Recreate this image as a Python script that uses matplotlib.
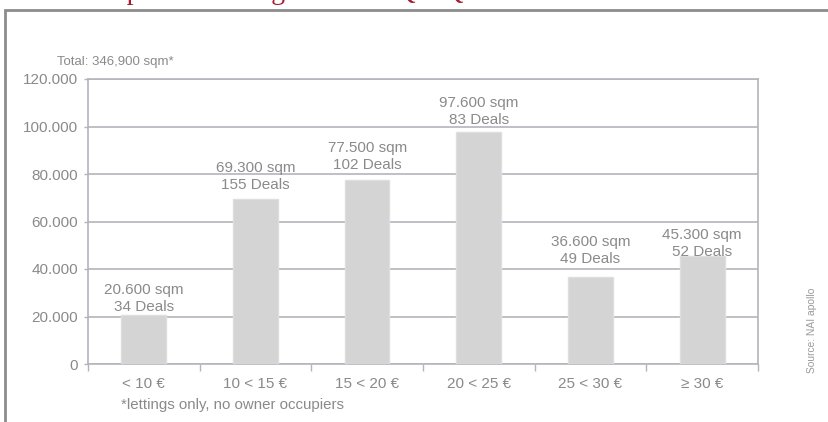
import matplotlib
matplotlib.use("Agg")
import matplotlib.pyplot as plt
from matplotlib.patches import Rectangle
from matplotlib.ticker import FuncFormatter, FixedLocator

categories = ["< 10 €", "10 < 15 €", "15 < 20 €", "20 < 25 €", "25 < 30 €", "≥ 30 €"]
sqm = [20600, 69300, 77500, 97600, 36600, 45300]
deals = [34, 155, 102, 83, 49, 52]
yticks = [0, 20000, 40000, 60000, 80000, 100000, 120000]

# layout only: gap (px) between bar top and its label
label_gap_px = [1, 7, 8, 5, 11, -3]

plt.rcParams['font.family'] = ['Liberation Sans', 'DejaVu Sans']
TXT = '#8a8a8a'
GRID = '#b4b4bc'

fig = plt.figure(figsize=(8.29, 4.22), dpi=100)
W, H = 829, 422
ax = fig.add_axes([88 / W, 1 - 364 / H, (758 - 88) / W, (364 - 79) / H])

x = list(range(len(categories)))
ax.bar(x, sqm, width=0.4, color='#d4d4d4', edgecolor='#dedede', linewidth=1, zorder=3)
for xi, v, d, g in zip(x, sqm, deals, label_gap_px):
    s = f"{v:,}".replace(",", ".")
    ax.annotate(f"{s} sqm\n{d} Deals", (xi, v), xytext=(0, g * 0.72), textcoords='offset points',
                ha='center', va='bottom', fontsize=11, color=TXT, linespacing=1.3, zorder=4)

ax.set_xlim(-0.5, len(categories) - 0.5)
ax.set_ylim(0, 120000)
ax.set_yticks(yticks)
ax.yaxis.set_major_formatter(FuncFormatter(lambda v, p: f"{int(v):,}".replace(",", ".")))
ax.grid(axis='y', color=GRID, linewidth=1.2, zorder=0)
ax.set_xticks(x)
ax.set_xticklabels(categories)
ax.xaxis.set_minor_locator(FixedLocator([i - 0.5 for i in range(len(categories) + 1)]))
ax.tick_params(axis='x', which='major', length=0, pad=9, labelsize=11, labelcolor=TXT)
ax.tick_params(axis='x', which='minor', length=5, width=1, color=GRID)
ax.tick_params(axis='y', length=3, width=1, color=GRID, labelsize=11, labelcolor=TXT, pad=4)
for sp in ax.spines.values():
    sp.set_color(GRID)
    sp.set_linewidth(1.2)

fig.text(57 / W, 1 - 65 / H, "Total: 346,900 sqm*", fontsize=9.5, color=TXT, ha='left', va='baseline')
fig.text(121 / W, 1 - 405 / H, "*lettings only, no owner occupiers", fontsize=10.8, color=TXT,
         ha='left', va='center')
fig.text(812 / W, 1 - 330 / H, "Source: NAI apollo", fontsize=7.4, color='#9a9a9a', rotation=90,
         ha='center', va='center')

# outer frame
fig.add_artist(Rectangle((5 / W, -0.1), 1.2, (1 - 10 / H) + 0.1, transform=fig.transFigure,
                         fill=False, edgecolor='#8c8c8c', linewidth=2))
# title (mostly above the visible area, as in the reference)
fig.text(50 / W, 1 + 1 / H, "Take-up in rent categories in € Q1–Q3", fontsize=20,
         family=['Liberation Serif', 'DejaVu Serif'], color='#a8192e', ha='left', va='baseline')

fig.savefig("out.png", dpi=100)
